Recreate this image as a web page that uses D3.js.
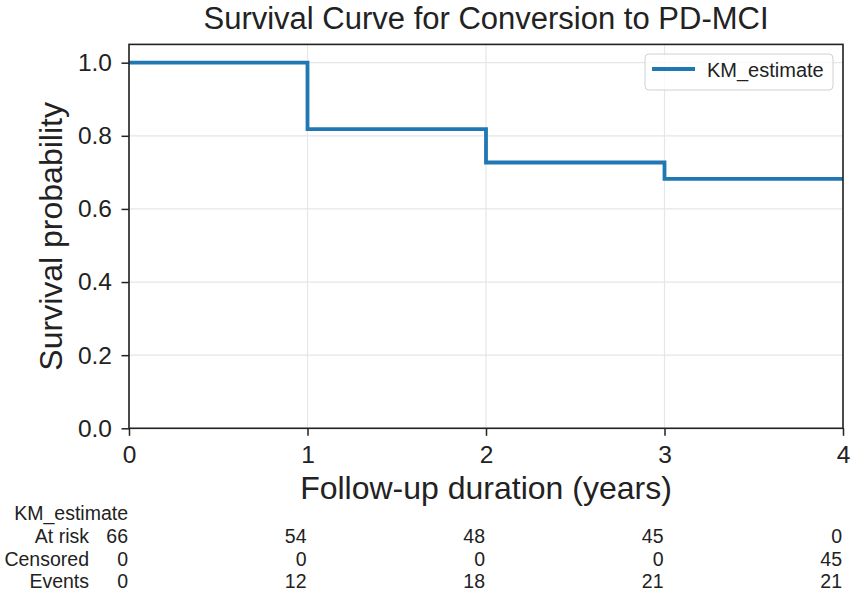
<!DOCTYPE html>
<html>
<head>
<meta charset="utf-8">
<script src="https://cdn.jsdelivr.net/npm/d3@7"></script>
<style>
  body { margin: 0; background: #fff; }
  svg { display: block; font-family: "Liberation Sans", Arial, sans-serif; }
</style>
</head>
<body>
<svg id="chart" width="851" height="594"></svg>
<script>
// ---- data ----
const times = [0, 1, 2, 3, 4];
const survival = [1.0, 0.818, 0.727, 0.682, 0.682];
const seriesLabel = "KM_estimate";
const atRisk = [66, 54, 48, 45, 0];
const censored = [0, 0, 0, 0, 45];
const events = [0, 12, 18, 21, 21];
const tableRows = ["At risk", "Censored", "Events"];
const yTicks = [0.0, 0.2, 0.4, 0.6, 0.8, 1.0];
const xTicks = [0, 1, 2, 3, 4];

const svg = d3.select("#chart");
const m = { left: 129, right: 843, top: 44.4, bottom: 428.3 };

const x = d3.scaleLinear().domain([0, 4]).range([m.left, m.right]);
const y = d3.scaleLinear().domain([0, 1.05]).range([m.bottom, m.top]);

// grid
const grid = svg.append("g");
grid.selectAll("line.gx").data(xTicks).join("line")
  .attr("x1", d => x(d)).attr("x2", d => x(d))
  .attr("y1", m.top).attr("y2", m.bottom)
  .attr("stroke", "#e6e6e6").attr("stroke-width", 1.2);
grid.selectAll("line.gy").data(yTicks).join("line")
  .attr("x1", m.left).attr("x2", m.right)
  .attr("y1", d => y(d)).attr("y2", d => y(d))
  .attr("stroke", "#e6e6e6").attr("stroke-width", 1.2);

// step line
const pts = times.map((t, i) => [t, survival[i]]);
const line = d3.line().x(d => x(d[0])).y(d => y(d[1])).curve(d3.curveStepAfter);
svg.append("path").datum(pts)
  .attr("d", line)
  .attr("fill", "none")
  .attr("stroke", "#1f77b4")
  .attr("stroke-width", 3.8);

// frame
svg.append("rect")
  .attr("x", m.left).attr("y", m.top)
  .attr("width", m.right - m.left).attr("height", m.bottom - m.top)
  .attr("fill", "none").attr("stroke", "#222").attr("stroke-width", 1.6);

// axes
const xAxis = d3.axisBottom(x).tickValues(xTicks).tickFormat(d3.format("d")).tickSize(7.5).tickPadding(9.5);
const gx = svg.append("g").attr("transform", `translate(0,${m.bottom})`).call(xAxis);
const yAxis = d3.axisLeft(y).tickValues(yTicks).tickFormat(d3.format(".1f")).tickSize(7.5).tickPadding(9.5);
const gy = svg.append("g").attr("transform", `translate(${m.left},0)`).call(yAxis);
[gx, gy].forEach(g => {
  g.select(".domain").remove();
  g.selectAll(".tick line").attr("stroke", "#222").attr("stroke-width", 1.5);
  g.selectAll(".tick text").attr("fill", "#222").style("font-size", "24.5px")
    .style("font-family", "'Liberation Sans', Arial, sans-serif");
});

// title and axis labels
svg.append("text").attr("x", (m.left + m.right) / 2).attr("y", 28.5)
  .attr("text-anchor", "middle").attr("fill", "#222").style("font-size", "31px")
  .text("Survival Curve for Conversion to PD-MCI");
svg.append("text").attr("x", (m.left + m.right) / 2).attr("y", 499)
  .attr("text-anchor", "middle").attr("fill", "#222").style("font-size", "32px")
  .text("Follow-up duration (years)");
svg.append("text")
  .attr("transform", `translate(62,${(m.top + m.bottom) / 2}) rotate(-90)`)
  .attr("text-anchor", "middle").attr("fill", "#222").style("font-size", "32px")
  .text("Survival probability");

// legend
const lg = svg.append("g");
lg.append("rect").attr("x", 645).attr("y", 54).attr("width", 188).attr("height", 36)
  .attr("rx", 4).attr("fill", "#fff").attr("fill-opacity", 0.8)
  .attr("stroke", "#d0d0d0").attr("stroke-width", 1);
lg.append("line").attr("x1", 652).attr("x2", 695).attr("y1", 69).attr("y2", 69)
  .attr("stroke", "#1f77b4").attr("stroke-width", 3.8);
lg.append("text").attr("x", 707).attr("y", 76.5).attr("fill", "#222")
  .style("font-size", "20px").text(seriesLabel);

// at-risk table
const tbl = svg.append("g").style("font-size", "19.5px").attr("fill", "#222");
tbl.append("text").attr("x", x(0) - 1).attr("y", 520).attr("text-anchor", "end").text(seriesLabel);
const rowY = [543, 566, 588];
const rowData = [atRisk, censored, events];
tableRows.forEach((lab, r) => {
  tbl.append("text").attr("x", 89).attr("y", rowY[r]).attr("text-anchor", "end").text(lab);
  tbl.selectAll(null).data(rowData[r]).join("text")
    .attr("x", (d, i) => x(times[i]) - 1)
    .attr("y", rowY[r])
    .attr("text-anchor", "end")
    .text(d => d);
});
</script>
</body>
</html>
